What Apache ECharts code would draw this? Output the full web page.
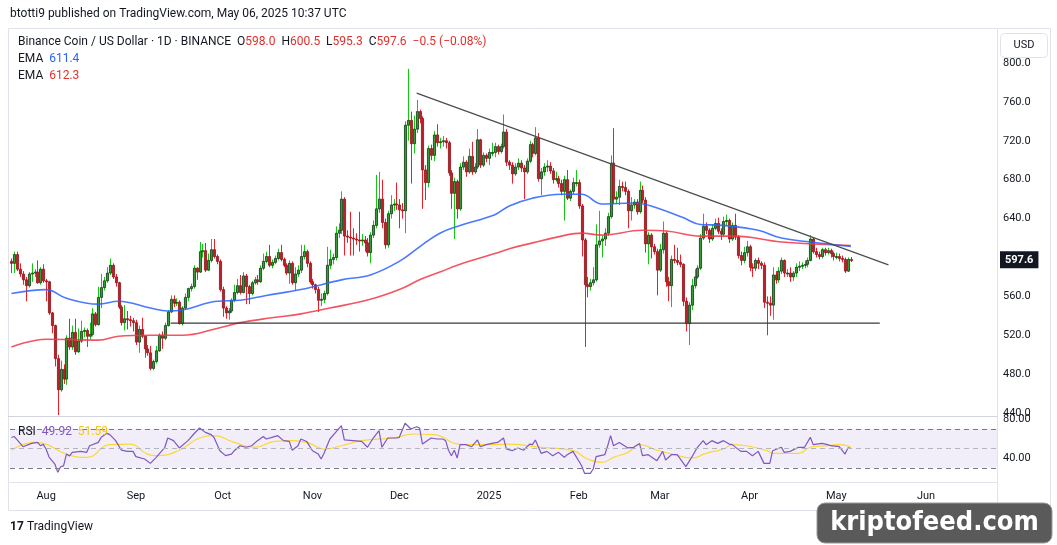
<!DOCTYPE html>
<html>
<head>
<meta charset="utf-8">
<title>BNB/USD 1D</title>
<script src="https://cdn.jsdelivr.net/npm/echarts@6/dist/echarts.min.js"></script>
<style>
  html, body { margin: 0; padding: 0; background: #fff; }
  #chart { width: 1057px; height: 545px; }
</style>
</head>
<body>
<div id="chart"></div>
<script>
// ---------------- data ----------------
var startDay = [2024, 6, 20];       // first candle: 2024-07-20
var axisDays = 341;                  // axis runs on into late June 2025

var monthTicks = [
  ['2024-08-01', 'Aug'], ['2024-09-01', 'Sep'], ['2024-10-01', 'Oct'], ['2024-11-01', 'Nov'],
  ['2024-12-01', 'Dec'], ['2025-01-01', '2025'], ['2025-02-01', 'Feb'], ['2025-03-01', 'Mar'],
  ['2025-04-01', 'Apr'], ['2025-05-01', 'May'], ['2025-06-01', 'Jun']
];
var priceTicks = [440, 480, 520, 560, 640, 680, 720, 760, 800];
var rsiTicks = [40, 80];

var firstOpen = 596;
var closes = [
  594, 603, 588, 583, 577, 571, 583, 584, 585, 574,
  588, 576, 575, 543, 530, 496, 464, 485, 475, 517,
  508, 523, 503, 514, 524, 525, 519, 521, 542, 531,
  559, 569, 576, 584, 592, 580, 574, 549, 533, 537,
  536, 535, 533, 513, 526, 519, 506, 502, 486, 493,
  504, 520, 517, 530, 544, 557, 553, 554, 532, 548,
  559, 568, 570, 589, 585, 606, 607, 587, 597, 608,
  601, 596, 567, 548, 543, 545, 556, 564, 571, 564,
  581, 570, 563, 574, 577, 575, 589, 596, 601, 592,
  595, 599, 605, 598, 592, 584, 594, 574, 583, 587,
  601, 606, 594, 575, 572, 567, 556, 557, 563, 592,
  598, 600, 625, 628, 660, 622, 621, 620, 619, 618,
  617, 618, 615, 605, 623, 633, 650, 660, 636, 613,
  645, 654, 655, 654, 649, 648, 736, 741, 717, 732,
  750, 743, 690, 677, 712, 705, 726, 718, 719, 720,
  718, 687, 666, 678, 650, 693, 698, 688, 704, 688,
  693, 721, 695, 705, 702, 708, 708, 714, 709, 714,
  729, 698, 695, 686, 693, 697, 692, 688, 699, 716,
  707, 723, 681, 688, 693, 694, 689, 680, 681, 676,
  668, 680, 661, 668, 677, 677, 653, 618, 572, 570,
  574, 577, 613, 617, 619, 625, 642, 697, 660, 662,
  673, 672, 668, 648, 654, 657, 647, 669, 659, 614,
  623, 611, 606, 587, 608, 625, 575, 571, 598, 597,
  595, 593, 555, 532, 551, 571, 580, 589, 620, 632,
  628, 619, 630, 635, 627, 624, 637, 638, 619, 633,
  621, 602, 597, 605, 611, 590, 589, 597, 594, 592,
  554, 553, 551, 582, 577, 586, 597, 584, 584, 580,
  584, 590, 591, 592, 593, 597, 619, 606, 603, 601,
  608, 605, 607, 604, 601, 601, 599, 598, 586, 598,
  597.6
];
var highs = [
  599, 606, 606, 594, 586, 580, 585, 594, 588, 597,
  590, 593, 578, 576, 544, 531, 500, 494, 490, 520,
  537, 530, 537, 527, 535, 528, 527, 533, 548, 544,
  570, 583, 580, 590, 599, 594, 583, 575, 551, 551,
  545, 540, 538, 536, 530, 538, 520, 510, 509, 495,
  509, 522, 524, 533, 546, 561, 561, 558, 556, 550,
  563, 569, 573, 592, 590, 616, 614, 615, 604, 619,
  619, 603, 598, 570, 550, 548, 558, 572, 578, 582,
  585, 583, 572, 576, 580, 582, 592, 604, 606, 613,
  598, 602, 609, 613, 600, 594, 597, 596, 590, 592,
  613, 613, 608, 596, 578, 573, 570, 563, 566, 611,
  608, 604, 632, 635, 668, 662, 628, 647, 630, 625,
  647, 624, 622, 620, 626, 638, 685, 688, 680, 640,
  648, 664, 660, 677, 660, 656, 740, 794, 750, 746,
  762, 752, 745, 695, 715, 716, 730, 737, 723, 725,
  723, 720, 690, 682, 680, 697, 704, 700, 712, 719,
  697, 732, 722, 708, 707, 712, 718, 718, 716, 717,
  747, 732, 700, 698, 697, 702, 700, 695, 702, 720,
  718, 734, 728, 692, 697, 700, 698, 692, 688, 684,
  680, 684, 690, 670, 682, 690, 680, 655, 620, 580,
  578, 590, 634, 648, 622, 630, 646, 705, 733, 668,
  680, 678, 678, 670, 662, 660, 660, 678, 674, 662,
  626, 625, 614, 609, 614, 637, 627, 580, 602, 613,
  610, 603, 594, 559, 554, 578, 588, 592, 624, 645,
  636, 630, 634, 640, 641, 630, 642, 644, 640, 636,
  645, 623, 606, 611, 617, 613, 594, 599, 600, 596,
  595, 560, 560, 590, 586, 590, 600, 598, 588, 590,
  586, 594, 596, 595, 597, 600, 623, 620, 610, 606,
  610, 610, 610, 609, 606, 605, 604, 602, 600, 600,
  600.5
];
var lows = [
  584, 584, 586, 580, 572, 555, 569, 575, 580, 573,
  572, 574, 555, 541, 522, 488, 438, 462, 470, 469,
  505, 505, 500, 502, 512, 518, 508, 516, 519, 529,
  530, 548, 566, 574, 582, 578, 570, 547, 530, 525,
  526, 529, 524, 510, 502, 517, 497, 499, 484, 484,
  491, 503, 506, 515, 529, 543, 549, 550, 531, 530,
  546, 555, 565, 568, 577, 584, 600, 585, 586, 595,
  599, 593, 565, 539, 537, 536, 543, 554, 562, 562,
  563, 552, 552, 561, 572, 572, 574, 587, 594, 590,
  589, 593, 597, 596, 590, 582, 573, 572, 566, 580,
  584, 598, 590, 573, 568, 563, 544, 550, 553, 561,
  588, 593, 597, 620, 624, 602, 615, 602, 602, 613,
  606, 612, 606, 601, 594, 620, 630, 646, 630, 609,
  610, 640, 648, 649, 630, 640, 625, 720, 676, 707,
  728, 738, 650, 659, 672, 700, 699, 714, 712, 714,
  712, 684, 650, 619, 640, 648, 690, 683, 686, 685,
  686, 691, 692, 693, 698, 695, 704, 703, 706, 707,
  712, 694, 690, 676, 684, 690, 688, 660, 686, 697,
  703, 705, 678, 664, 684, 688, 686, 676, 678, 672,
  664, 638, 659, 658, 665, 673, 650, 601, 508, 559,
  566, 571, 575, 610, 600, 612, 622, 640, 655, 655,
  654, 668, 664, 630, 638, 650, 644, 645, 656, 605,
  593, 599, 603, 561, 585, 604, 570, 555, 549, 594,
  592, 590, 550, 524, 510, 546, 568, 578, 587, 618,
  624, 615, 617, 628, 624, 618, 621, 633, 615, 617,
  618, 599, 592, 594, 601, 586, 580, 586, 588, 588,
  548, 520, 540, 536, 573, 574, 583, 580, 580, 575,
  576, 580, 586, 588, 589, 590, 596, 604, 600, 598,
  599, 602, 603, 600, 597, 598, 596, 595, 584, 585,
  595.3
];

// EMA lines, read at [day, value]
var emaBluePts = [
  [0, 563], [12, 567], [19, 558], [30, 552], [37, 555], [48, 548], [54, 545], [59, 546],
  [71, 555], [79, 556], [88, 561], [100, 567], [114, 577], [124, 582], [134, 596], [141, 611],
  [148, 625], [155, 633], [167, 644], [172, 653], [180, 661], [190, 665], [197, 665], [204, 655],
  [215, 656], [221, 653], [232, 641], [238, 634], [246, 633], [258, 628], [266, 620], [276, 616],
  [290, 611.4]
];
var emaRedPts = [
  [0, 508], [12, 516], [30, 515], [37, 519], [48, 520], [59, 520], [71, 527], [79, 533],
  [90, 538], [100, 542], [110, 548], [124, 557], [134, 567], [141, 577], [148, 585], [155, 593],
  [167, 604], [172, 609], [180, 615], [190, 622], [197, 625], [204, 623], [218, 628], [227, 627],
  [238, 622], [250, 622], [266, 616], [290, 612.3]
];

// drawn trend lines [day, price]
var resistanceLine = [[140, 769], [303, 592.4]];
var supportLine = [[55, 532.5], [300, 532.5]];

// RSI(14) and its moving average, read at [day, value]
var rsiPts = [
  [0, 61], [1, 62], [4, 51.6], [7, 55], [9, 56], [10, 52.6], [11, 54], [12, 49], [13, 41],
  [15, 33.8], [16, 25.3], [17, 31], [18, 32], [19, 44], [20, 42], [21, 45.8], [24, 46.8],
  [26, 45.8], [27, 52.6], [30, 56], [31, 61.2], [33, 65.3], [34, 64], [36, 57.8], [38, 48],
  [40, 46.8], [42, 46.8], [43, 41.4], [46, 39], [48, 34.5], [50, 40.7], [53, 51], [54, 60.5],
  [56, 57.8], [58, 50.3], [61, 57.8], [63, 64.6], [65, 70.8], [67, 66.3], [69, 64], [70, 61],
  [72, 47.5], [74, 42.4], [76, 44], [77, 47.5], [79, 52.6], [81, 51], [83, 52.6], [85, 57.8],
  [87, 62], [88, 59.5], [90, 61.2], [92, 62.9], [94, 57.8], [96, 57], [97, 48], [99, 52.6],
  [100, 59.5], [102, 57], [104, 47.5], [106, 44], [107, 39], [108, 44.8], [110, 59.5],
  [112, 66.3], [114, 73.2], [115, 58.5], [118, 57.8], [121, 57], [123, 51], [125, 60.5],
  [127, 68], [128, 51], [130, 60.5], [133, 60.5], [134, 61.2], [136, 75.6], [138, 69.7],
  [140, 72], [141, 70.8], [142, 54.3], [145, 60.5], [147, 59.5], [149, 59.5], [150, 57.8],
  [151, 48], [152, 42.4], [153, 48], [154, 40], [155, 53.7], [157, 53.7], [159, 51.6],
  [161, 58.5], [162, 51.6], [164, 53.7], [166, 55], [168, 56], [170, 60.5], [171, 49.2],
  [173, 47.5], [175, 50.3], [177, 48], [179, 54.3], [180, 53.7], [181, 58.5], [183, 44.8],
  [185, 46.8], [187, 42.4], [189, 45.8], [191, 40.7], [192, 43.4], [194, 46.8], [197, 32.1],
  [198, 24.3], [200, 24.3], [201, 28.7], [202, 41.4], [205, 43.4], [206, 52.6], [207, 62.9],
  [208, 52.6], [210, 56], [213, 50.3], [215, 51], [217, 55], [218, 42.4], [220, 43.4],
  [223, 37.3], [225, 46.8], [226, 38], [228, 43.4], [230, 43.4], [233, 31.1], [235, 40.7],
  [237, 51], [239, 57.8], [240, 53.7], [242, 57.8], [244, 55], [246, 57.8], [248, 54.3],
  [249, 53.7], [252, 46.8], [254, 46.8], [256, 42.4], [258, 46.8], [260, 34.5], [262, 34.5],
  [263, 47.5], [266, 51], [267, 45.8], [269, 46.8], [272, 51], [274, 51], [276, 61.2],
  [277, 53.7], [280, 55], [282, 53.7], [283, 52.6], [286, 51.6], [288, 44], [289, 50.3],
  [290, 49.92]
];
var rsiMaPts = [
  [0, 48], [8, 56], [11, 55], [19, 44], [26, 40.7], [34, 53.7], [41, 54.3], [47, 44],
  [50, 42.4], [58, 48], [65, 60.5], [70, 62.9], [77, 56], [84, 51], [91, 57], [97, 57.8],
  [103, 55], [108, 49.2], [114, 52.6], [121, 57.8], [132, 60.5], [139, 64.6], [146, 64],
  [155, 54], [166, 53.7], [171, 54.3], [183, 51], [194, 47.5], [199, 39], [204, 35.5],
  [208, 40.7], [213, 45.8], [217, 53.7], [223, 48], [229, 43.4], [235, 40], [240, 44.8],
  [246, 49.2], [249, 53.7], [254, 52.6], [261, 47.5], [263, 44.8], [272, 44.8], [276, 51],
  [282, 52.6], [286, 53.7], [290, 51.59]
];
var lastChange = '\u22120.5 (\u22120.08%)';

// ---------------- build ----------------
var days = [];
for (var k = 0; k < axisDays; k++) {
  days.push(new Date(Date.UTC(startDay[0], startDay[1], startDay[2] + k)).toISOString().slice(0, 10));
}
var monthName = {};
monthTicks.forEach(function (t) { monthName[t[0]] = t[1]; });

var candleRows = closes.map(function (c, i) {
  var o = i === 0 ? firstOpen : closes[i - 1];
  return [i, o, c, lows[i], highs[i]];
});
var last = candleRows[candleRows.length - 1];

var FONT = 'Roboto, "Liberation Sans", sans-serif';
var INK = '#131722';

function renderCandle(params, api) {
  var i = api.value(0), o = api.value(1), c = api.value(2), lo = api.value(3), hi = api.value(4);
  var up = c >= o;
  var pHi = api.coord([i, hi]), pLo = api.coord([i, lo]);
  var pO = api.coord([i, o]), pC = api.coord([i, c]);
  var w = api.size([1, 0])[0] * 0.74;
  var xc = Math.round(pHi[0]) + 0.5;
  var top = Math.min(pO[1], pC[1]);
  var h = Math.max(Math.abs(pO[1] - pC[1]), 1);
  return {
    type: 'group',
    children: [
      { type: 'line', shape: { x1: xc, y1: pHi[1], x2: xc, y2: pLo[1] },
        style: { stroke: up ? '#12c812' : '#f01e28', lineWidth: 1 } },
      { type: 'rect', shape: { x: xc - w / 2, y: top, width: w, height: h },
        style: { fill: up ? '#38983b' : '#b5222a', stroke: up ? '#1a481c' : '#9c1c23', lineWidth: 0.9 } }
    ]
  };
}

var chart = echarts.init(document.getElementById('chart'), null, { renderer: 'canvas' });

chart.setOption({
  animation: false,
  textStyle: { fontFamily: FONT },
  grid: [
    { left: 10, top: 30, width: 987, height: 385 },
    { left: 10, top: 417, width: 987, height: 65 }
  ],
  xAxis: [
    { type: 'category', gridIndex: 0, data: days, boundaryGap: true,
      axisLine: { show: false }, axisTick: { show: false }, axisLabel: { show: false }, splitLine: { show: false } },
    { type: 'category', gridIndex: 1, data: days, boundaryGap: true,
      axisLine: { show: true, lineStyle: { color: '#e0e3eb' } }, axisTick: { show: false },
      axisLabel: {
        color: INK, fontSize: 11, margin: 9, fontFamily: FONT,
        interval: function (idx, val) { return monthName.hasOwnProperty(val); },
        formatter: function (val) { return monthName[val] || ''; }
      },
      splitLine: { show: false } }
  ],
  yAxis: [
    { type: 'value', gridIndex: 0, position: 'right', min: 438.05, max: 833.9, scale: true,
      axisLine: { show: false }, axisTick: { show: false }, splitLine: { show: false },
      axisLabel: { customValues: priceTicks, color: INK, fontSize: 11, margin: 6,
        formatter: function (v) { return v.toFixed(1); } } },
    { type: 'value', gridIndex: 1, position: 'right', min: 15.4, max: 82.05,
      axisLine: { show: false }, axisTick: { show: false }, splitLine: { show: false },
      axisLabel: { customValues: rsiTicks, color: INK, fontSize: 11, margin: 6,
        formatter: function (v) { return v.toFixed(2); } } }
  ],
  series: [
    {
      name: 'BNBUSD', type: 'custom', xAxisIndex: 0, yAxisIndex: 0,
      renderItem: renderCandle, clip: true,
      encode: { x: 0, y: [1, 2, 3, 4] },
      data: candleRows, z: 2
    },
    {
      name: 'EMA red', type: 'line', xAxisIndex: 0, yAxisIndex: 0, data: emaRedPts,
      smooth: 0.4, showSymbol: false, z: 3,
      lineStyle: { color: '#f23645', width: 1.6, opacity: 0.85 }
    },
    {
      name: 'EMA blue', type: 'line', xAxisIndex: 0, yAxisIndex: 0, data: emaBluePts,
      smooth: 0.4, showSymbol: false, z: 3,
      lineStyle: { color: '#2962ff', width: 1.6, opacity: 0.85 }
    },
    {
      name: 'Last price', type: 'line', xAxisIndex: 0, yAxisIndex: 0,
      data: [[last[0], last[2]]], showSymbol: false, z: 20,
      lineStyle: { width: 0 },
      markLine: {
        silent: true, symbol: 'none',
        lineStyle: { color: 'rgba(0,0,0,0)', width: 1 },
        label: { show: true, position: 'end', distance: 3, formatter: last[2].toFixed(1), color: '#ffffff',
          backgroundColor: INK, padding: [3, 5, 3, 5], fontSize: 11, fontWeight: 'bold', fontFamily: FONT },
        data: [{ yAxis: last[2] }]
      }
    },
    {
      name: 'Resistance', type: 'line', xAxisIndex: 0, yAxisIndex: 0, data: resistanceLine,
      showSymbol: false, z: 4, lineStyle: { color: '#4b4b4b', width: 1.1 }
    },
    {
      name: 'Support', type: 'line', xAxisIndex: 0, yAxisIndex: 0, data: supportLine,
      showSymbol: false, z: 4, lineStyle: { color: '#3a3a3a', width: 1.1 }
    },
    {
      name: 'RSI', type: 'line', xAxisIndex: 1, yAxisIndex: 1, data: rsiPts,
      showSymbol: false, z: 3, lineStyle: { color: '#7e57c2', width: 1.2 },
      markArea: { silent: true, itemStyle: { color: 'rgba(126,87,194,0.1)' },
        data: [[{ yAxis: 30 }, { yAxis: 70 }]] },
      markLine: {
        silent: true, symbol: 'none', label: { show: false },
        lineStyle: { color: '#787b86', type: [5, 4], width: 1 },
        data: [{ yAxis: 70 }, { yAxis: 50, lineStyle: { color: '#b2b5be', type: [5, 4] } }, { yAxis: 30 }]
      }
    },
    {
      name: 'RSI MA', type: 'line', xAxisIndex: 1, yAxisIndex: 1, data: rsiMaPts,
      smooth: 0.5, showSymbol: false, z: 2, lineStyle: { color: '#fdd835', width: 1.2 }
    }
  ],
  graphic: [
    { type: 'rect', z: -10, shape: { x: 8.5, y: 28.5, width: 1042, height: 482 },
      style: { fill: 'none', stroke: '#e0e3eb', lineWidth: 1 } },
    { type: 'line', z: 50, shape: { x1: 997.5, y1: 28, x2: 997.5, y2: 511 },
      style: { stroke: '#e0e3eb', lineWidth: 1 } },
    { type: 'line', z: 50, shape: { x1: 8, y1: 416.5, x2: 997, y2: 416.5 },
      style: { stroke: '#d1d4dc', lineWidth: 1 } },
    { type: 'text', x: 10, y: 14, z: 50,
      style: { text: 'btotti9 published on TradingView.com, May 06, 2025 10:37 UTC',
        fill: INK, font: '12px ' + FONT, verticalAlign: 'middle' } },
    { type: 'text', x: 18, y: 42, z: 50,
      style: {
        text: '{a|Binance Coin / US Dollar \u00b7 1D \u00b7 BINANCE}  {a|O}{r|' + last[1].toFixed(1) + '}  {a|H}{r|' +
          last[4].toFixed(1) + '}  {a|L}{r|' + last[3].toFixed(1) + '}  {a|C}{r|' + last[2].toFixed(1) + '}  {r|' + lastChange + '}',
        verticalAlign: 'middle', font: '12px ' + FONT,
        rich: { a: { fill: INK, font: '12px ' + FONT }, r: { fill: '#e0302c', font: '12px ' + FONT } }
      } },
    { type: 'text', x: 18, y: 59, z: 50,
      style: { text: '{a|EMA}  {b|' + emaBluePts[emaBluePts.length - 1][1].toFixed(1) + '}',
        verticalAlign: 'middle', font: '12px ' + FONT,
        rich: { a: { fill: INK, font: '12px ' + FONT }, b: { fill: '#2962ff', font: '12px ' + FONT } } } },
    { type: 'text', x: 18, y: 76, z: 50,
      style: { text: '{a|EMA}  {b|' + emaRedPts[emaRedPts.length - 1][1].toFixed(1) + '}',
        verticalAlign: 'middle', font: '12px ' + FONT,
        rich: { a: { fill: INK, font: '12px ' + FONT }, b: { fill: '#e0302c', font: '12px ' + FONT } } } },
    { type: 'text', x: 18, y: 432, z: 50,
      style: { text: '{a|RSI}  {p|' + rsiPts[rsiPts.length - 1][1].toFixed(2) + '}  {y|' +
          rsiMaPts[rsiMaPts.length - 1][1].toFixed(2) + '}',
        verticalAlign: 'middle', font: '12px ' + FONT,
        rich: { a: { fill: INK, font: '12px ' + FONT }, p: { fill: '#7e57c2', font: '12px ' + FONT },
          y: { fill: '#f5c518', font: '12px ' + FONT } } } },
    { type: 'rect', z: 60, shape: { x: 1000.5, y: 33.5, width: 47, height: 24, r: 4 },
      style: { fill: '#fff', stroke: '#e0e3eb', lineWidth: 1 } },
    { type: 'text', x: 1024, y: 45.5, z: 61,
      style: { text: 'USD', fill: INK, font: '11px ' + FONT, align: 'center', verticalAlign: 'middle' } },
    { type: 'text', x: 10, y: 527, z: 50,
      style: { text: '17', fill: INK, font: 'bold 12px ' + FONT, verticalAlign: 'middle' } },
    { type: 'text', x: 27, y: 527, z: 50,
      style: { text: 'TradingView', fill: INK, font: '12px ' + FONT, verticalAlign: 'middle' } },
    { type: 'rect', z: 70, shape: { x: 817, y: 503, width: 235, height: 40, r: 8 },
      style: { fill: '#5a5a5a', stroke: '#9a9a9a', lineWidth: 1 } },
    { type: 'text', x: 934.5, y: 523, z: 71,
      style: { text: 'kriptofeed.com', fill: '#fff', align: 'center', verticalAlign: 'middle',
        font: 'bold 27px "DejaVu Sans Condensed", "DejaVu Sans", sans-serif' } }
  ]
});
</script>
</body>
</html>
